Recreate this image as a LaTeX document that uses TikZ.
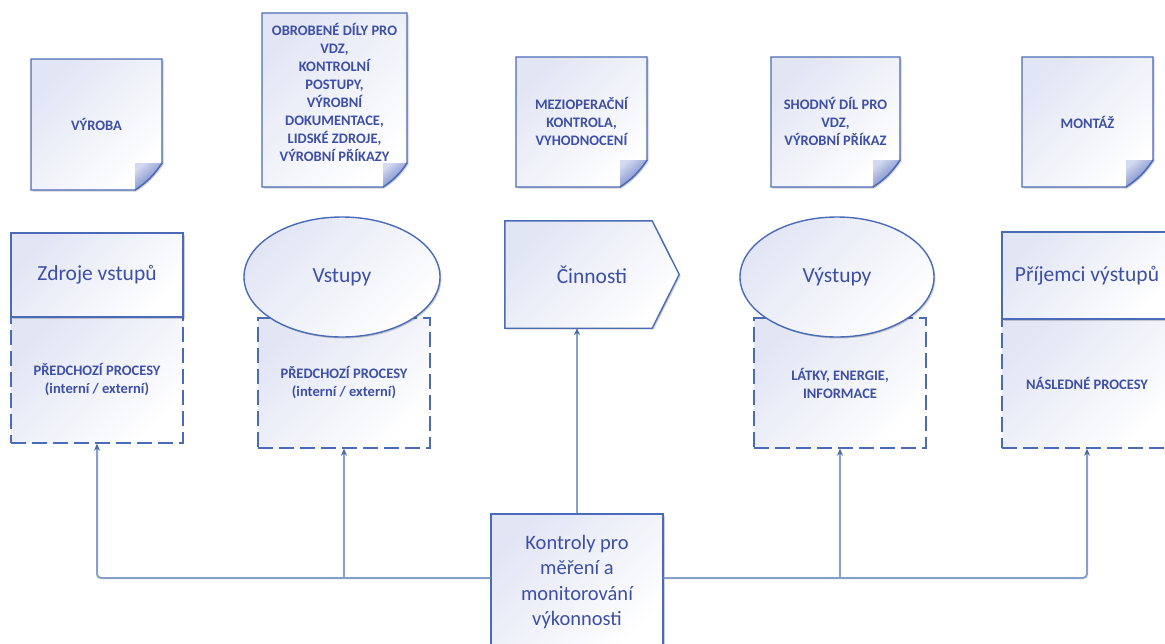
\documentclass[tikz,border=0pt]{standalone}
\usepackage{fontspec}
\setmainfont{Carlito}
\usetikzlibrary{shapes.geometric, arrows.meta, shadows, backgrounds}

\definecolor{edge}{HTML}{4A6CB8}
\definecolor{ink}{HTML}{3D4FA6}
\definecolor{lav}{HTML}{E2E5F4}
\definecolor{wire}{HTML}{86A1C6}
\definecolor{tipc}{HTML}{4A6A9E}
\definecolor{foldlight}{HTML}{D3D9F0}
\definecolor{folddark}{HTML}{5C72C0}

% sheet of paper with a curled lower right corner: left, top, right, bottom, fold size
\newcommand\notepaper[5]{%
  \path[edgeline, gradfill, softshadow]
    (#1,#2) -- (#3,#2) -- (#3,#4-#5)
    .. controls (#3-0.3*#5,#4-0.55*#5) and (#3-0.55*#5,#4-0.3*#5) .. (#3-#5,#4)
    -- (#1,#4) -- cycle;
  \shade[top color=foldlight, bottom color=folddark, shading angle=40]
    (#3-#5,#4-#5) -- (#3,#4-#5)
    .. controls (#3-0.3*#5,#4-0.55*#5) and (#3-0.55*#5,#4-0.3*#5) .. (#3-#5,#4)
    -- cycle;
  \draw[edgeline, line join=round]
    (#3,#4-#5)
    .. controls (#3-0.3*#5,#4-0.55*#5) and (#3-0.55*#5,#4-0.3*#5) .. (#3-#5,#4);
}

\begin{document}
\begin{tikzpicture}[x=1pt, y=-1pt,
  edgeline/.style={draw=edge, line width=1.4pt},
  gradfill/.style={top color=lav, bottom color=white, shading angle=45},
  softshadow/.style={drop shadow={shadow xshift=1.5pt, shadow yshift=-1.5pt, opacity=0.18, fill=black}},
  bigfont/.style={font=\fontsize{21.5}{25}\selectfont},
  smallfont/.style={font=\bfseries\fontsize{14.5}{18}\selectfont},
  notetext/.style={text=ink, align=center, smallfont},
  solidbox/.style={rectangle, edgeline, gradfill, softshadow, inner sep=0pt, text=ink, bigfont},
  oval/.style={ellipse, edgeline, gradfill, softshadow, inner sep=0pt, text=ink, bigfont},
  dashbox/.style={rectangle, draw=edge, line width=1.4pt, dash pattern=on 15pt off 6pt,
    gradfill, inner sep=0pt, text=ink, align=center, smallfont},
  wireline/.style={draw=wire, line width=2pt, rounded corners=4pt},
  tipwire/.style={wireline, -{Stealth[length=7pt, width=6pt, color=tipc]}}
]
\useasboundingbox (0,0) rectangle (1165,643);
\clip (0,0) rectangle (1165,643);
\begin{scope}[on background layer]
  \fill[white] (0,0) rectangle (1165,643);
\end{scope}

% --- document notes on top ---
\notepaper{31}{59}{162}{190}{27}
\node[notetext] (n1) at (96.5,124) {VÝROBA};

\notepaper{262}{13}{407}{187}{24}
\node[notetext] (n2) at (334.5,92) {OBROBENÉ DÍLY PRO\\VDZ,\\KONTROLNÍ\\POSTUPY,\\VÝROBNÍ\\DOKUMENTACE,\\LIDSKÉ ZDROJE,\\VÝROBNÍ PŘÍKAZY};

\notepaper{516}{57}{647}{187}{27}
\node[notetext] (n3) at (581.5,121) {MEZIOPERAČNÍ\\KONTROLA,\\VYHODNOCENÍ};

\notepaper{771}{57}{900}{187}{27}
\node[notetext] (n4) at (835.5,121) {SHODNÝ DÍL PRO\\VDZ,\\VÝROBNÍ PŘÍKAZ};

\notepaper{1022}{57}{1153}{187}{27}
\node[notetext] (n5) at (1087.5,122) {MONTÁŽ};

% --- dashed detail boxes ---
\node[dashbox, minimum width=172, minimum height=126] (zdrojeP) at (97,380) {PŘEDCHOZÍ PROCESY\\(interní / externí)};
\node[dashbox, minimum width=172, minimum height=130] (vstupyP) at (344,383) {PŘEDCHOZÍ PROCESY\\(interní / externí)};
\node[dashbox, minimum width=172, minimum height=130] (vystupyP) at (840,383) {LÁTKY, ENERGIE,\\INFORMACE};
\node[dashbox, minimum width=170, minimum height=129] (prijemciP) at (1087,383.5) {NÁSLEDNÉ PROCESY};

% --- process elements ---
\node[solidbox, minimum width=172, minimum height=84] (zdroje) at (97,275) {Zdroje vstupů};
\node[oval, minimum width=196, minimum height=120] (vstupy) at (342,277) {Vstupy};
\node[inner sep=0pt, minimum width=174, minimum height=107, text=ink, bigfont] (cinn) at (592,274.5) {Činnosti};
\begin{scope}[on background layer]
  \path[edgeline, gradfill, softshadow]
    (cinn.north west) -- ([xshift=-27pt]cinn.north east) -- (cinn.east)
    -- ([xshift=-27pt]cinn.south east) -- (cinn.south west) -- cycle;
\end{scope}
\node[oval, minimum width=194, minimum height=120] (vystupy) at (837,277) {Výstupy};
\node[solidbox, minimum width=170, minimum height=87] (prijemci) at (1087,275.5) {Příjemci výstupů};

% --- control box and its connectors ---
\node[solidbox, minimum width=172, minimum height=136, align=center,
      font=\fontsize{20.5}{25.5}\selectfont] (kontroly) at (577,582)
  {Kontroly pro\\měření a\\monitorování\\výkonnosti};
\coordinate (hub) at (577,578);

\draw[tipwire] (kontroly.west |- hub) -| (zdrojeP.south);
\draw[tipwire] (vstupyP.south |- hub) -- (vstupyP.south);
\draw[tipwire] (kontroly.east |- hub) -| (prijemciP.south);
\draw[tipwire] (vystupyP.south |- hub) -- (vystupyP.south);
\draw[tipwire] (kontroly.north) -- (kontroly.north |- cinn.south);
\end{tikzpicture}
\end{document}
